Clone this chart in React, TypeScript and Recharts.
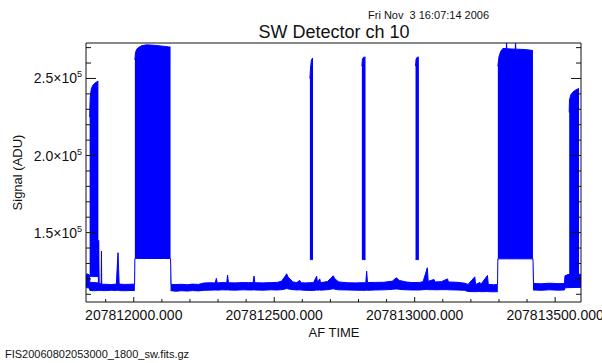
import { Area, ComposedChart, XAxis, YAxis } from "recharts"

// Signal envelopes as [AF time, low, high] in ADU
const quietStart: [number, number, number][] = [
  [207811830, 114500, 122800],
  [207811836, 114200, 123200],
  [207811842, 114000, 122500],
  [207811844, 112500, 117500],
  [207811860, 112300, 117700],
  [207811874, 112500, 117300],
  [207811875, 112400, 145000],
  [207811877, 112400, 116800],
  [207811884, 112500, 117000],
  [207811885, 112300, 138000],
  [207811886, 112400, 116500],
  [207811900, 112400, 116500],
  [207811920, 112600, 116300],
  [207811938, 112500, 116600],
  [207811941, 112500, 127000],
  [207811944, 112600, 137000],
  [207811946, 112500, 126500],
  [207811948, 112400, 116600],
  [207811970, 112300, 116400],
  [207811990, 112500, 116500],
  [207812003, 112400, 116600],
  [207812004, 112400, 133200],
]

const firstBurst: [number, number, number][] = [
  [207811843, 121500, 225000],
  [207811845, 121500, 238000],
  [207811849, 121500, 243500],
  [207811856, 121500, 246000],
  [207811866, 121500, 247500],
  [207811874, 121500, 248300],
]

const firstBlock: [number, number, number][] = [
  [207812004, 133200, 262000],
  [207812006, 133200, 266500],
  [207812010, 133200, 268800],
  [207812016, 133200, 270000],
  [207812028, 133200, 271200],
  [207812045, 133200, 271800],
  [207812075, 133200, 271500],
  [207812110, 133200, 270800],
  [207812131, 133200, 270300],
]

const quietMid: [number, number, number][] = [
  [207812131, 112500, 133000],
  [207812133, 112300, 116400],
  [207812150, 112000, 116300],
  [207812170, 112300, 116500],
  [207812190, 112100, 116200],
  [207812210, 112400, 116600],
  [207812230, 112200, 116400],
  [207812250, 112600, 117300],
  [207812270, 112700, 117500],
  [207812290, 112800, 117400],
  [207812294, 112800, 120300],
  [207812297, 112700, 117400],
  [207812315, 112900, 117600],
  [207812331, 112800, 117500],
  [207812334, 112900, 122400],
  [207812337, 112800, 117500],
  [207812360, 112700, 117400],
  [207812390, 112900, 117600],
  [207812410, 112800, 117500],
  [207812425, 112800, 117600],
  [207812428, 112900, 121800],
  [207812431, 112800, 117500],
  [207812460, 112700, 117400],
  [207812490, 112900, 117600],
  [207812510, 112800, 117700],
  [207812526, 113000, 118500],
  [207812540, 113500, 122000],
  [207812544, 113800, 123300],
  [207812550, 113500, 121000],
  [207812567, 113000, 118000],
  [207812580, 112800, 117600],
  [207812591, 112900, 119000],
  [207812595, 112800, 117500],
  [207812610, 112600, 117400],
  [207812625, 112500, 117500],
  [207812640, 112500, 117600],
  [207812651, 112800, 121700],
  [207812654, 112700, 117600],
  [207812662, 112800, 120000],
  [207812665, 112700, 117500],
  [207812690, 113000, 118300],
  [207812705, 113400, 121000],
  [207812710, 113600, 122000],
  [207812716, 113300, 120000],
  [207812730, 112900, 118000],
  [207812760, 112800, 117500],
  [207812790, 112700, 117400],
  [207812810, 112600, 117500],
  [207812826, 112600, 117500],
  [207812829, 112700, 125000],
  [207812832, 112600, 117600],
  [207812860, 112800, 117700],
  [207812890, 112900, 117800],
  [207812920, 113200, 118500],
  [207812935, 113500, 120700],
  [207812945, 113200, 119000],
  [207812970, 112900, 118000],
  [207812990, 112800, 117600],
  [207813018, 112800, 117700],
  [207813030, 113000, 118200],
  [207813045, 113200, 127200],
  [207813048, 113000, 118400],
  [207813069, 113000, 119600],
  [207813072, 112900, 118000],
  [207813095, 113000, 118200],
  [207813117, 113000, 120000],
  [207813120, 112900, 118000],
  [207813150, 112800, 117800],
  [207813178, 112600, 117200],
  [207813190, 111800, 116400],
  [207813214, 111700, 121300],
  [207813217, 111700, 116300],
  [207813232, 111800, 117700],
  [207813235, 111700, 116300],
  [207813259, 111800, 122200],
  [207813262, 111700, 116400],
  [207813280, 111600, 116200],
  [207813295, 111700, 116300],
  [207813296, 111800, 133000],
]

const narrowBurstA: [number, number, number][] = [
  [207812627, 132500, 250000],
  [207812629, 132500, 256000],
  [207812632, 132500, 261500],
  [207812635, 132500, 263000],
  [207812638, 132500, 263000],
]

const narrowBurstB: [number, number, number][] = [
  [207812812, 132500, 258000],
  [207812814, 132500, 262500],
  [207812818, 132500, 263800],
  [207812825, 132500, 263800],
]

const narrowBurstC: [number, number, number][] = [
  [207813003, 132500, 258000],
  [207813005, 132500, 262500],
  [207813009, 132500, 263800],
  [207813015, 132500, 263800],
]

const secondBlock: [number, number, number][] = [
  [207813296, 133000, 258000],
  [207813300, 133000, 264000],
  [207813306, 133000, 267500],
  [207813314, 133000, 269500],
  [207813326, 133000, 269300],
  [207813327, 133000, 273000],
  [207813328, 133000, 269300],
  [207813345, 133000, 269100],
  [207813358, 133000, 269000],
  [207813359, 133000, 273000],
  [207813360, 133000, 269000],
  [207813390, 133000, 268800],
  [207813410, 133000, 268400],
  [207813421, 133000, 268000],
]

const quietEnd: [number, number, number][] = [
  [207813421, 112800, 133000],
  [207813423, 112800, 117000],
  [207813450, 112600, 116800],
  [207813480, 112900, 117200],
  [207813510, 112700, 116900],
  [207813533, 112800, 117000],
  [207813535, 114200, 122000],
  [207813545, 114300, 122800],
  [207813570, 114400, 122900],
  [207813592, 114500, 123000],
]

const lastBurst: [number, number, number][] = [
  [207813550, 123000, 228000],
  [207813551, 123000, 236000],
  [207813556, 123000, 239500],
  [207813565, 123000, 241500],
  [207813578, 123000, 243000],
  [207813585, 123000, 243500],
]

const segments = [
  quietStart, firstBurst, firstBlock, quietMid, narrowBurstA,
  narrowBurstB, narrowBurstC, secondBlock, quietEnd, lastBurst,
]

// axes
const timeDomain = [207811830, 207813592]
const signalDomain = [105000, 273000]
const xTicks = [
  207811900, 207812000, 207812100, 207812200, 207812300, 207812400,
  207812500, 207812600, 207812700, 207812800, 207812900, 207813000,
  207813100, 207813200, 207813300, 207813400, 207813500,
]
const xMajorTicks = [207812000, 207812500, 207813000, 207813500]
const xTickLabels = ["207812000.000", "207812500.000", "207813000.000", "207813500.000"]
const yTicks = [
  110000, 120000, 130000, 140000, 150000, 160000, 170000, 180000, 190000,
  200000, 210000, 220000, 230000, 240000, 250000, 260000, 270000,
]
const yMajorTicks = [150000, 200000, 250000]
const yTickMantissas = ["1.5", "2.0", "2.5"]
const yTickExponent = "5"

const FONT = "'Liberation Sans', Arial, sans-serif"
const BLUE = "#0000ff"
const INK = "#111"

const toRange = (rows: [number, number, number][]) =>
  rows.map(([t, lo, hi]) => ({ t, v: [lo, hi] }))

function BottomTick({ x, y, payload }: any) {
  const i = xMajorTicks.indexOf(payload.value)
  return (
    <g>
      <line x1={x} x2={x} y1={y} y2={y - (i >= 0 ? 5 : 3)} stroke={INK} />
      {i >= 0 && (
        <text x={x} y={y + 18} textAnchor="middle" fontSize={14} fontFamily={FONT} fill={INK}>
          {xTickLabels[i]}
        </text>
      )}
    </g>
  )
}

function TopTick({ x, y, payload }: any) {
  const major = xMajorTicks.includes(payload.value)
  return <line x1={x} x2={x} y1={y} y2={y + (major ? 5 : 3)} stroke={INK} />
}

function LeftTick({ x, y, payload }: any) {
  const i = yMajorTicks.indexOf(payload.value)
  return (
    <g>
      <line x1={x} x2={x + (i >= 0 ? 10 : 5)} y1={y} y2={y} stroke={INK} />
      {i >= 0 && (
        <text x={x - 4} y={y + 5} textAnchor="end" fontSize={14} fontFamily={FONT} fill={INK}>
          <tspan>{yTickMantissas[i]}×10</tspan>
          <tspan dy={-6} fontSize={9}>{yTickExponent}</tspan>
        </text>
      )}
    </g>
  )
}

function RightTick({ x, y, payload }: any) {
  const major = yMajorTicks.includes(payload.value)
  return <line x1={x} x2={x - (major ? 10 : 5)} y1={y} y2={y} stroke={INK} />
}

export default function App() {
  return (
    <div style={{ position: "absolute", left: 0, top: 0, width: 602, height: 363, background: "#fff" }}>
      <ComposedChart width={602} height={363} margin={{ top: 42, right: 20, bottom: 0, left: 0 }}>
        <XAxis
          xAxisId="b"
          dataKey="t"
          type="number"
          scale="linear"
          domain={timeDomain}
          allowDataOverflow
          ticks={xTicks}
          interval={0}
          tickSize={0}
          tickMargin={0}
          tickLine={false}
          height={61}
          axisLine={{ stroke: INK }}
          tick={BottomTick}
        />
        <XAxis
          xAxisId="t"
          orientation="top"
          type="number"
          scale="linear"
          domain={timeDomain}
          allowDataOverflow
          ticks={xTicks}
          interval={0}
          tickSize={0}
          tickMargin={0}
          tickLine={false}
          height={1}
          axisLine={{ stroke: INK }}
          tick={TopTick}
        />
        <YAxis
          yAxisId="l"
          type="number"
          domain={signalDomain}
          allowDataOverflow
          ticks={yTicks}
          interval={0}
          tickSize={0}
          tickMargin={0}
          tickLine={false}
          width={86}
          axisLine={{ stroke: INK }}
          tick={LeftTick}
        />
        <YAxis
          yAxisId="r"
          orientation="right"
          type="number"
          domain={signalDomain}
          allowDataOverflow
          ticks={yTicks}
          interval={0}
          tickSize={0}
          tickMargin={0}
          tickLine={false}
          width={1}
          axisLine={{ stroke: INK }}
          tick={RightTick}
        />
        {segments.map((rows, i) => (
          <Area
            key={i}
            xAxisId="b"
            yAxisId="l"
            data={toRange(rows)}
            dataKey="v"
            type="linear"
            stroke={BLUE}
            strokeWidth={1}
            fill={BLUE}
            fillOpacity={1}
            dot={false}
            activeDot={false}
            isAnimationActive={false}
          />
        ))}
      </ComposedChart>
      <svg
        width={602}
        height={363}
        style={{ position: "absolute", left: 0, top: 0, pointerEvents: "none" }}
        fontFamily={FONT}
        fill={INK}
      >
        <text x={368} y={19} fontSize={11} style={{ whiteSpace: "pre" }}>
          Fri Nov  3 16:07:14 2006
        </text>
        <text x={334} y={38} fontSize={18} textAnchor="middle">
          SW Detector ch 10
        </text>
        <text x={334} y={337} fontSize={13} textAnchor="middle">
          AF TIME
        </text>
        <text transform="translate(21.5,172.5) rotate(-90)" fontSize={13} textAnchor="middle">
          Signal (ADU)
        </text>
        <text x={5} y={358} fontSize={11}>
          FIS20060802053000_1800_sw.fits.gz
        </text>
      </svg>
    </div>
  )
}
